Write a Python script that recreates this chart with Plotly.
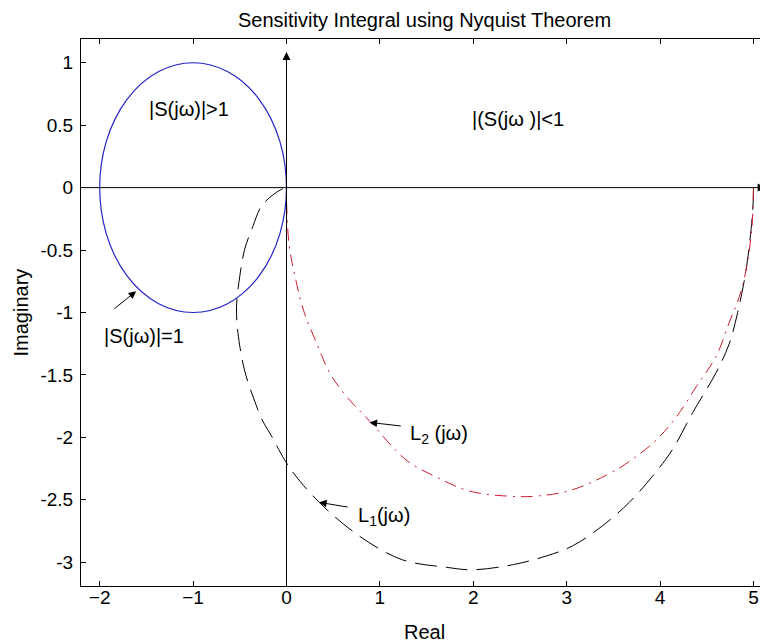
import plotly.graph_objects as go

# ---- data ----
L1_re = [5.00, 4.99, 4.92, 4.83, 4.74, 4.60, 4.35, 4.13, 3.92, 3.67, 3.38, 3.06, 2.78, 2.42,
         1.99, 1.71, 1.24, 0.78, 0.35, 0.09, -0.02, -0.16, -0.26, -0.36, -0.45, -0.52,
         -0.535, -0.50, -0.45, -0.36, -0.26, -0.07, 0.00]
L1_im = [0.00, -0.20, -0.66, -1.00, -1.25, -1.48, -1.80, -2.10, -2.31, -2.52, -2.71, -2.87, -2.95, -3.02,
         -3.06, -3.04, -2.98, -2.79, -2.52, -2.30, -2.18, -1.99, -1.86, -1.67, -1.46, -1.16,
         -0.95, -0.71, -0.50, -0.31, -0.14, -0.02, 0.00]

L2_re = [5.00, 4.98, 4.92, 4.85, 4.74, 4.60, 4.39, 4.18, 3.96, 3.75, 3.53, 3.06, 2.68, 2.36,
         1.96, 1.61, 1.28, 0.89, 0.64, 0.46, 0.32, 0.19, 0.10, 0.03, 0.00, 0.00]
L2_im = [0.00, -0.34, -0.66, -0.87, -1.08, -1.35, -1.59, -1.83, -2.02, -2.15, -2.26, -2.42, -2.47, -2.47,
         -2.43, -2.32, -2.18, -1.87, -1.67, -1.48, -1.24, -1.00, -0.74, -0.47, -0.10, 0.00]

circle_center = (-1.0, 0.0)
circle_radius = 1.0

x_ticks = [-2, -1, 0, 1, 2, 3, 4, 5]
y_ticks = [1, 0.5, 0, -0.5, -1, -1.5, -2, -2.5, -3]
y_tick_labels = ["1", "0.5", "0", "-0.5", "-1", "-1.5", "-2", "-2.5", "-3"]

FONT = "Liberation Sans, Arial, sans-serif"
# the page body has an 8px margin, so the figure is 8px smaller than the window
W, H = 760, 636
ML, MR, MT, MB = 73, 0, 31, 58
PW, PH = W - ML - MR, H - MT - MB


def px_to_paper(fx, fy):
    """figure pixel -> paper coordinates (relative to plot area)"""
    return (fx - ML) / PW, (H - MB - fy) / PH


fig = go.Figure()

fig.add_trace(go.Scatter(x=L1_re, y=L1_im, mode="lines", line_shape="spline",
                         line=dict(color="black", width=1, dash="22px,9px"),
                         showlegend=False, hoverinfo="skip"))
fig.add_trace(go.Scatter(x=L2_re, y=L2_im, mode="lines", line_shape="spline",
                         line=dict(color="rgb(205,30,45)", width=1, dash="12px,6px,2px,6px"),
                         showlegend=False, hoverinfo="skip"))

cx, cy = circle_center
fig.add_shape(type="circle", xref="x", yref="y",
              x0=cx - circle_radius, x1=cx + circle_radius,
              y0=cy - circle_radius, y1=cy + circle_radius,
              line=dict(color="rgb(35,35,200)", width=1.2))

annos = []
# axis arrows
annos.append(dict(x=5.13, y=0, ax=-2.2, ay=0, xref="x", yref="y", axref="x", ayref="y",
                  text="", showarrow=True, arrowhead=2, arrowsize=1.6, arrowwidth=1, arrowcolor="black"))
annos.append(dict(x=0, y=1.085, ax=0, ay=-3.19, xref="x", yref="y", axref="x", ayref="y",
                  text="", showarrow=True, arrowhead=2, arrowsize=1.6, arrowwidth=1, arrowcolor="black"))
# label arrows
for (hx, hy, tx, ty) in [(-1.61, -0.83, -1.86, -0.98), (0.89, -1.88, 1.24, -1.91), (0.35, -2.52, 0.67, -2.56)]:
    annos.append(dict(x=hx, y=hy, ax=tx, ay=ty, xref="x", yref="y", axref="x", ayref="y",
                      text="", showarrow=True, arrowhead=2, arrowsize=1.5, arrowwidth=1, arrowcolor="black"))
# texts
tf = dict(family=FONT, size=20, color="black")
annos.append(dict(x=-1.04, y=0.63, text="|S(jω)|>1", showarrow=False, font=tf, xref="x", yref="y"))
annos.append(dict(x=2.48, y=0.55, text="|(S(jω )|<1", showarrow=False, font=tf, xref="x", yref="y"))
annos.append(dict(x=-1.525, y=-1.19, text="|S(jω)|=1", showarrow=False, font=tf, xref="x", yref="y"))
annos.append(dict(x=1.3, y=-1.98, text="L<sub>2</sub> (jω)", showarrow=False, font=tf,
                  xref="x", yref="y", xanchor="left"))
annos.append(dict(x=0.74, y=-2.63, text="L<sub>1</sub>(jω)", showarrow=False, font=tf,
                  xref="x", yref="y", xanchor="left"))
# axis titles
rx, ry = px_to_paper(ML + PW / 2, 624)
annos.append(dict(x=rx, y=ry, xref="paper", yref="paper", xanchor="center", yanchor="middle",
                  text="Real", showarrow=False, font=tf))
ix, iy = px_to_paper(12, MT + PH / 2)
annos.append(dict(x=ix, y=iy, xref="paper", yref="paper", xanchor="center", yanchor="middle",
                  text="Imaginary", textangle=-90, showarrow=False, font=tf))

fig.update_layout(
    width=W, height=H,
    margin=dict(l=ML, r=MR, t=MT, b=MB, autoexpand=False),
    paper_bgcolor="white", plot_bgcolor="white",
    font=dict(family=FONT, size=19, color="black"),
    title=dict(text="Sensitivity Integral using Nyquist Theorem", x=0.5, xref="paper",
               y=1 - 12 / H, yanchor="middle", font=dict(family=FONT, size=20, color="black")),
    annotations=annos,
    xaxis=dict(range=[-2.2, 5.155], tickvals=x_ticks, ticks="inside", ticklen=5,
               tickcolor="black", showline=True, linecolor="black", linewidth=1,
               mirror="ticks", showgrid=False, zeroline=False, automargin=False,
               tickfont=dict(family=FONT, size=19, color="black"), ticklabelstandoff=-6),
    yaxis=dict(range=[-3.19, 1.19], tickvals=y_ticks, ticktext=y_tick_labels, ticks="inside", ticklen=5,
               tickcolor="black", showline=True, linecolor="black", linewidth=1,
               mirror="ticks", showgrid=False, zeroline=False, automargin=False,
               tickfont=dict(family=FONT, size=19, color="black"), ticklabelstandoff=3),
)

fig.write_html("out.html")
